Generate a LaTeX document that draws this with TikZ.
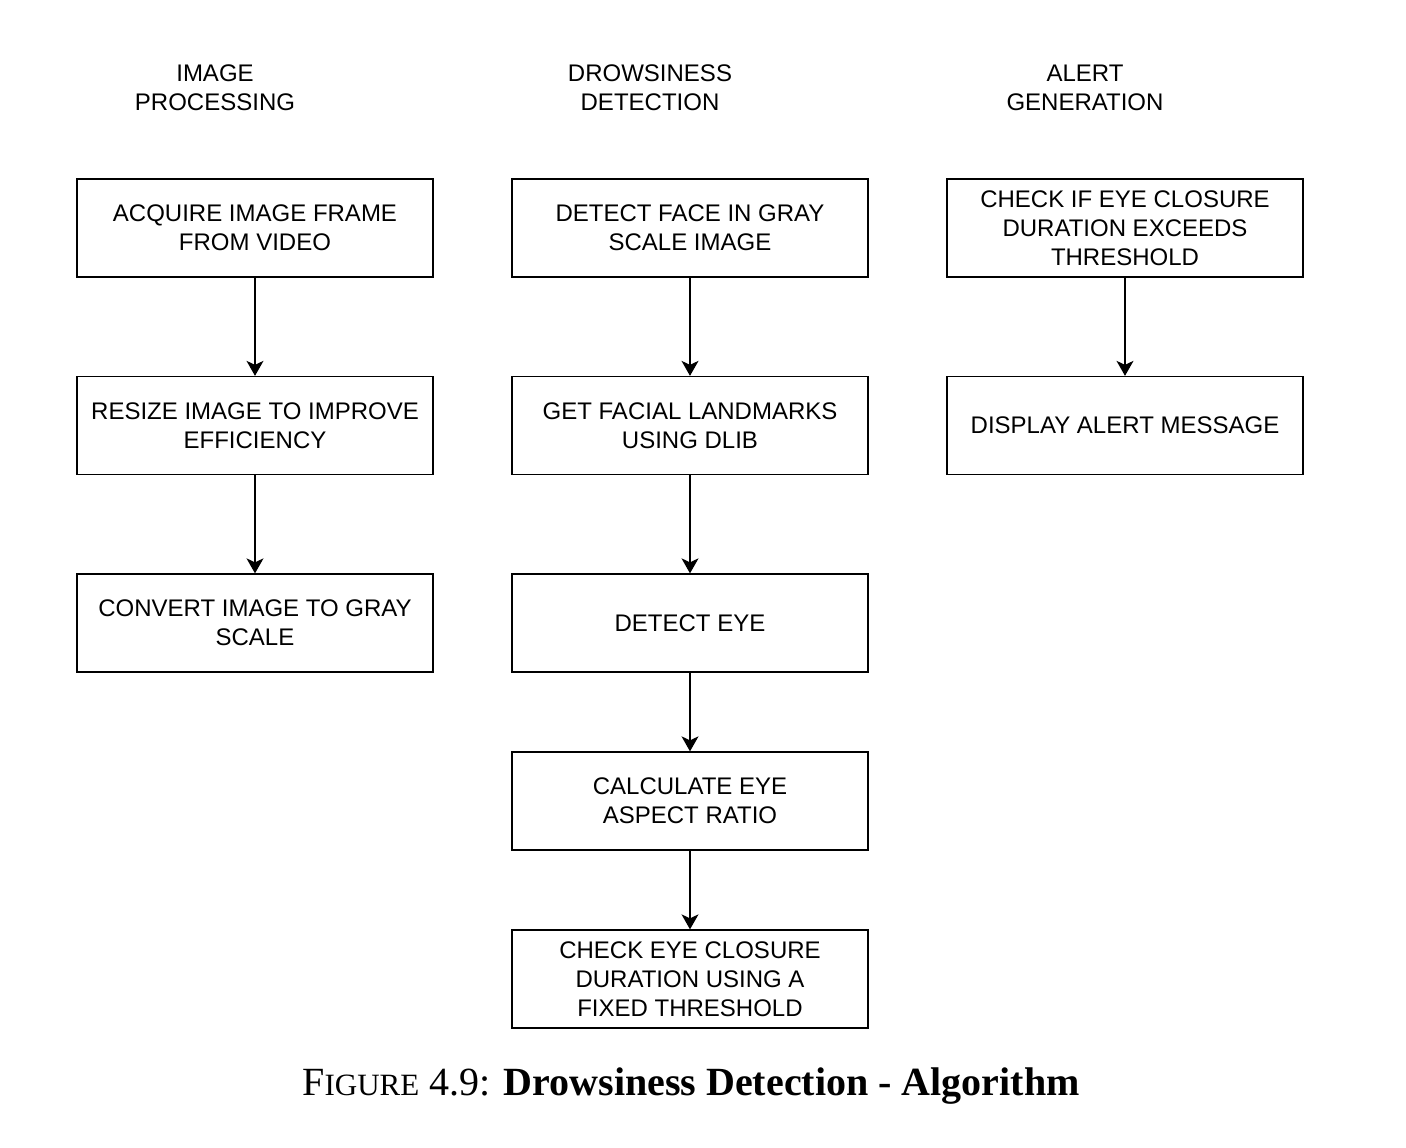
\documentclass[tikz,border=0pt]{standalone}
\usepackage{fontspec}
\setmainfont{Liberation Serif}
\newfontfamily\boxfont{Liberation Sans}
\usetikzlibrary{arrows.meta}

\begin{document}
\begin{tikzpicture}[x=1pt,y=-1pt,
	box/.style={draw, line width=1.3pt, minimum width=356pt, minimum height=98pt, align=center, font=\boxfont\fontsize{24}{29}\selectfont},
	head/.style={align=center, font=\boxfont\fontsize{24}{29}\selectfont},
	>={Stealth[length=15pt,width=17pt,inset=4pt]}]
	\useasboundingbox (0,0) rectangle (1406,1148);
	% column headings
	\node[head] (h1) at (215,88) {IMAGE\\PROCESSING};
	\node[head] (h2) at (650,88) {DROWSINESS\\DETECTION};
	\node[head] (h3) at (1085,88) {ALERT\\GENERATION};
	% image processing
	\node[box] (a1) at (255,228) {ACQUIRE IMAGE FRAME\\FROM VIDEO};
	\node[box] (a2) at (255,425.5) {RESIZE IMAGE TO IMPROVE\\EFFICIENCY};
	\node[box] (a3) at (255,623) {CONVERT IMAGE TO GRAY\\SCALE};
	% drowsiness detection
	\node[box] (b1) at (690,228) {DETECT FACE IN GRAY\\SCALE IMAGE};
	\node[box] (b2) at (690,425.5) {GET FACIAL LANDMARKS\\USING DLIB};
	\node[box] (b3) at (690,623) {DETECT EYE};
	\node[box] (b4) at (690,801) {CALCULATE EYE\\ASPECT RATIO};
	\node[box] (b5) at (690,979) {CHECK EYE CLOSURE\\DURATION USING A\\FIXED THRESHOLD};
	% alert generation
	\node[box] (c1) at (1125,228) {CHECK IF EYE CLOSURE\\DURATION EXCEEDS\\THRESHOLD};
	\node[box] (c2) at (1125,425.5) {DISPLAY ALERT MESSAGE};
	% arrows
	\foreach \s/\t in {a1/a2,a2/a3,b1/b2,b2/b3,b3/b4,b4/b5,c1/c2}{
		\draw[->, line width=1.3pt] (\s) -- (\t);
	}
	% caption
	\node[anchor=base] (cap) at (691,1095) {\fontsize{40}{44}\selectfont F{\fontsize{31}{33}\selectfont IGURE} 4.9: \textbf{Drowsiness Detection - Algorithm}};
\end{tikzpicture}
\end{document}
